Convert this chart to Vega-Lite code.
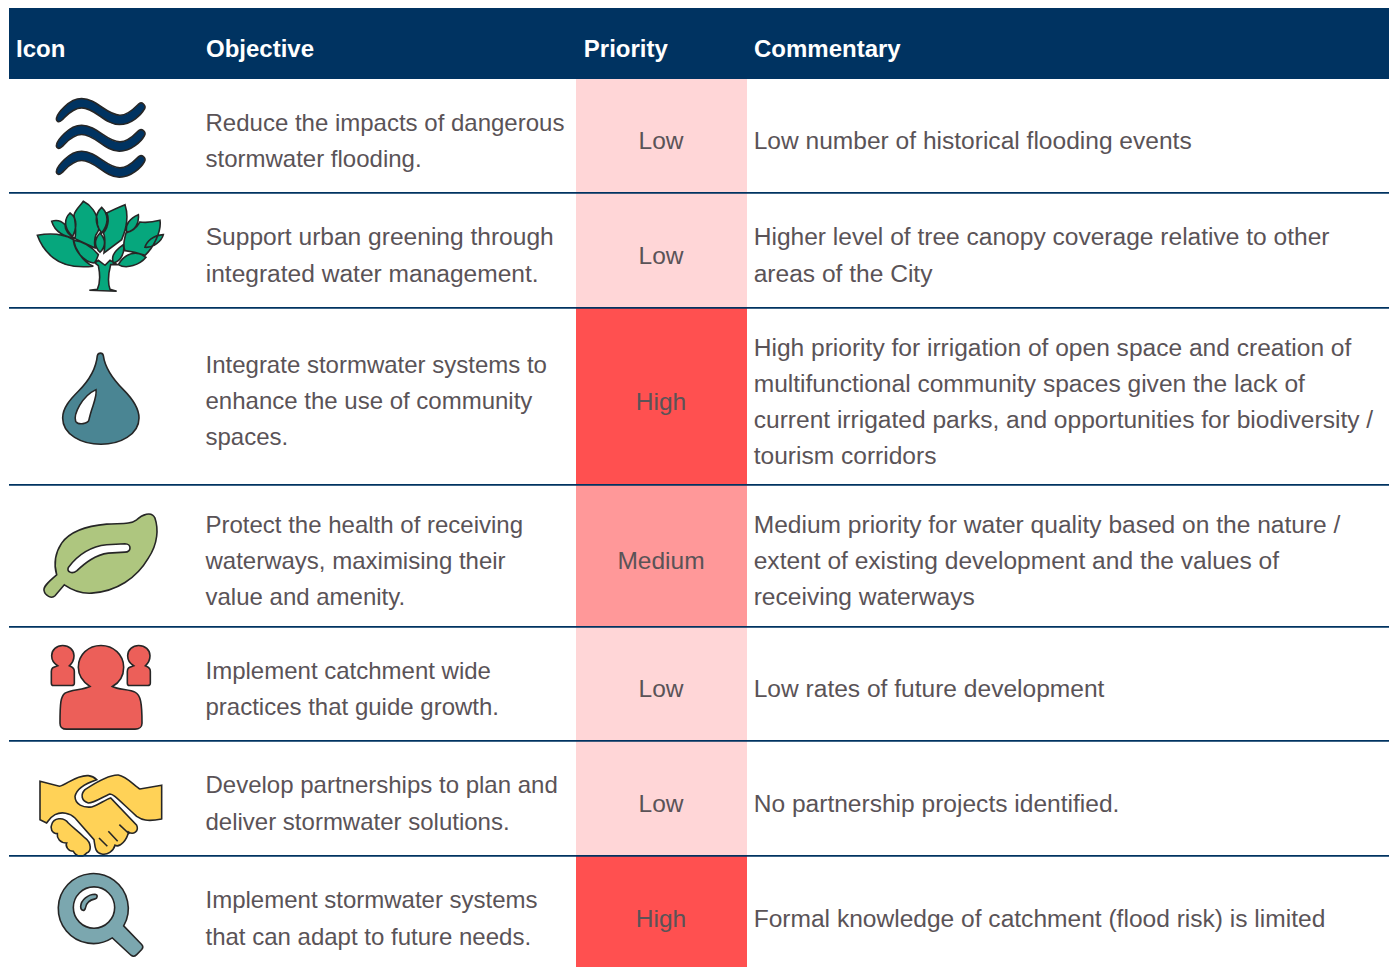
{"$schema":"https://vega.github.io/schema/vega-lite/v6.json","width":1394,"height":967,"padding":0,"autosize":{"type":"none"},"background":"#ffffff","config":{"view":{"stroke":null}},
"resolve":{"scale":{"fill":"independent","y":"independent"}},
"datasets":{
"rows":[
{"rowStart":1,"rowEnd":2,"rowMid":1.5,"priority":"Low"},
{"rowStart":2,"rowEnd":3,"rowMid":2.5,"priority":"Low"},
{"rowStart":3,"rowEnd":4,"rowMid":3.5,"priority":"High"},
{"rowStart":4,"rowEnd":5,"rowMid":4.5,"priority":"Medium"},
{"rowStart":5,"rowEnd":6,"rowMid":5.5,"priority":"Low"},
{"rowStart":6,"rowEnd":7,"rowMid":6.5,"priority":"Low"},
{"rowStart":7,"rowEnd":8,"rowMid":7.5,"priority":"High"}
],
"lines":[
{"row":1,"col":1,"line":1,"text":"Reduce the impacts of dangerous"},
{"row":1,"col":1,"line":3,"text":"stormwater flooding."},
{"row":2,"col":1,"line":4,"text":"Support urban greening through"},
{"row":2,"col":1,"line":5,"text":"integrated water management."},
{"row":3,"col":1,"line":7,"text":"Integrate stormwater systems to"},
{"row":3,"col":1,"line":9,"text":"enhance the use of community"},
{"row":3,"col":1,"line":11,"text":"spaces."},
{"row":4,"col":1,"line":13,"text":"Protect the health of receiving"},
{"row":4,"col":1,"line":14,"text":"waterways, maximising their"},
{"row":4,"col":1,"line":15,"text":"value and amenity."},
{"row":5,"col":1,"line":16,"text":"Implement catchment wide"},
{"row":5,"col":1,"line":18,"text":"practices that guide growth."},
{"row":6,"col":1,"line":19,"text":"Develop partnerships to plan and"},
{"row":6,"col":1,"line":21,"text":"deliver stormwater solutions."},
{"row":7,"col":1,"line":22,"text":"Implement stormwater systems"},
{"row":7,"col":1,"line":24,"text":"that can adapt to future needs."},
{"row":1,"col":3,"line":2,"text":"Low number of historical flooding events"},
{"row":2,"col":3,"line":4,"text":"Higher level of tree canopy coverage relative to other"},
{"row":2,"col":3,"line":5,"text":"areas of the City"},
{"row":3,"col":3,"line":6,"text":"High priority for irrigation of open space and creation of"},
{"row":3,"col":3,"line":8,"text":"multifunctional community spaces given the lack of"},
{"row":3,"col":3,"line":10,"text":"current irrigated parks, and opportunities for biodiversity /"},
{"row":3,"col":3,"line":12,"text":"tourism corridors"},
{"row":4,"col":3,"line":13,"text":"Medium priority for water quality based on the nature /"},
{"row":4,"col":3,"line":14,"text":"extent of existing development and the values of"},
{"row":4,"col":3,"line":15,"text":"receiving waterways"},
{"row":5,"col":3,"line":17,"text":"Low rates of future development"},
{"row":6,"col":3,"line":20,"text":"No partnership projects identified."},
{"row":7,"col":3,"line":23,"text":"Formal knowledge of catchment (flood risk) is limited"}
],
"header":[{"label":"Icon","col":0,"rowStart":0,"rowEnd":1,"rowMid":0.5},{"label":"Objective","col":1,"rowStart":0,"rowEnd":1,"rowMid":0.5},{"label":"Priority","col":2.005,"rowStart":0,"rowEnd":1,"rowMid":0.5},{"label":"Commentary","col":3,"rowStart":0,"rowEnd":1,"rowMid":0.5}],
"icons":[{"part":"waves","rowMid":1.5},{"part":"tree","rowMid":2.5},{"part":"drop","rowMid":3.5},{"part":"dropHole","rowMid":3.5},{"part":"leaf","rowMid":4.5},{"part":"leafHole","rowMid":4.5},{"part":"people","rowMid":5.5},{"part":"hands","rowMid":6.5},{"part":"lens","rowMid":7.5},{"part":"lensHole","rowMid":7.5},{"part":"lensGlint","rowMid":7.5}]
},
"layer":[
{"data":{"name":"header"},"mark":{"type":"rect","color":"#003361"},"encoding":{
"x":{"datum":0,"type":"quantitative","axis":null,"scale":{"domain":[0,0.5,1,2,2.5,3,4],"range":[9,100,199,576,661,747,1389],"zero":false,"nice":false}},"x2":{"datum":4},
"y":{"field":"rowStart","type":"quantitative","axis":null,"scale":{"domain":[0,1,2,3,4,5,6,7,8],"range":[8,79,192.8,307.8,484.8,626.8,740.8,855.8,972],"zero":false,"nice":false}},"y2":{"field":"rowEnd"}}},
{"data":{"name":"rows"},"mark":{"type":"rect"},"encoding":{
"x":{"datum":2,"type":"quantitative","axis":null,"scale":{"domain":[0,0.5,1,2,2.5,3,4],"range":[9,100,199,576,661,747,1389],"zero":false,"nice":false}},"x2":{"datum":3},
"y":{"field":"rowStart","type":"quantitative","axis":null,"scale":{"domain":[0,1,2,3,4,5,6,7,8],"range":[8,79,192.8,307.8,484.8,626.8,740.8,855.8,972],"zero":false,"nice":false}},"y2":{"field":"rowEnd"},
"fill":{"field":"priority","type":"nominal","legend":null,"scale":{"domain":["Low","Medium","High"],"range":["#FFD6D7","#FF9899","#FF5050"]}}}},
{"data":{"name":"icons"},"mark":{"type":"point","filled":true,"opacity":1,"stroke":"#262626","strokeWidth":1.6,"size":0.4444},"encoding":{
"x":{"datum":0.5,"type":"quantitative","axis":null,"scale":{"domain":[0,0.5,1,2,2.5,3,4],"range":[9,100,199,576,661,747,1389],"zero":false,"nice":false}},
"y":{"field":"rowMid","type":"quantitative","axis":null,"scale":{"domain":[0,1,2,3,4,5,6,7,8],"range":[8,79,192.8,307.8,484.8,626.8,740.8,855.8,972],"zero":false,"nice":false}},
"fill":{"field":"part","type":"nominal","legend":null,"scale":{"domain":["waves","tree","drop","dropHole","leaf","leafHole","people","hands","lens","lensHole","lensGlint"],"range":["#003361","#06A77D","#4A8593","#ffffff","#AEC67F","#ffffff","#EC5F59","#FFD257","#7BA7AF","#ffffff","#7BA7AF"]}},
"shape":{"field":"part","type":"nominal","legend":null,"scale":{"domain":["waves","tree","drop","dropHole","leaf","leafHole","people","hands","lens","lensHole","lensGlint"],"range":[
"M-130,-55 C-128,-65 -95,-112 -55,-112 C-10,-112 20,-62 60,-62 C85,-62 105,-85 115,-95 C125,-105 140,-92 133,-80 C125,-65 95,-34 58,-34 C15,-34 -15,-84 -55,-84 C-85,-84 -105,-55 -115,-47 C-125,-38 -133,-45 -130,-55Z M-130,25 C-128,15 -95,-32 -55,-32 C-10,-32 20,18 60,18 C85,18 105,-5 115,-15 C125,-25 140,-12 133,0 C125,15 95,46 58,46 C15,46 -15,-4 -55,-4 C-85,-4 -105,25 -115,33 C-125,42 -133,35 -130,25Z M-130,103 C-128,93 -95,46 -55,46 C-10,46 20,96 60,96 C85,96 105,73 115,63 C125,53 140,66 133,78 C125,93 95,124 58,124 C15,124 -15,74 -55,74 C-85,74 -105,103 -115,111 C-125,120 -133,113 -130,103Z",
"M-5,46 C0,70 0,100 -8,117 L-32,120 L50,123 L30,117 C22,95 25,70 32,43 L52,43 L30,30 L15,45 L-5,30 L-15,38Z M-188,-45 C-150,-52 -110,-49 -80,-32 C-75,-7 -55,33 -20,48 C-70,53 -110,48 -140,23 C-165,3 -180,-22 -188,-45Z M-145,-87 C-130,-92 -115,-87 -105,-77 C-105,-62 -95,-47 -75,-35 C-105,-42 -135,-52 -145,-87Z M-50,-147 C-30,-137 -5,-112 -8,-77 C0,-62 -5,-57 -12,-47 C-20,-27 -15,-17 -15,-7 L-75,-35 C-70,-67 -75,-87 -78,-105 C-75,-122 -60,-132 -50,-147Z M-90,-112 C-70,-97 -68,-72 -82,-42 C-100,-57 -115,-87 -90,-112Z M75,-137 C85,-107 80,-67 65,-32 C45,-17 25,-2 12,8 C15,-17 18,-37 10,-52 C30,-77 25,-102 20,-112 C40,-122 60,-132 75,-137Z M5,-129 C28,-107 25,-77 5,-52 C-15,-77 -18,-107 5,-129Z M180,-90 C185,-57 160,-7 135,15 C115,8 95,3 75,1 C70,-12 70,-22 78,-52 C105,-57 115,-77 120,-85 C140,-82 160,-85 180,-90Z M115,-107 C118,-82 105,-57 80,-55 C75,-77 90,-97 115,-107Z M190,-47 C185,-27 160,-7 135,-9 C140,-27 160,-45 190,-47Z M-80,-30 C-55,-27 -30,-17 -5,13 C-10,28 -15,38 -20,38 C-50,33 -75,3 -80,-30Z M0,-52 C18,-32 18,-12 0,6 C-18,-12 -18,-32 0,-52Z M70,-17 C75,3 65,33 40,38 C35,23 35,8 70,-17Z M55,43 C75,8 110,-2 138,21 C120,43 80,58 55,43Z",
"M-8,-122 C-5,-132 8,-132 10,-122 C15,-85 40,-50 70,-20 C100,10 117,35 117,65 C117,115 60,144 3,144 C-55,144 -112,115 -112,65 C-112,35 -90,10 -65,-15 C-35,-45 -12,-80 -8,-122Z",
"M-12,-20 C-8,5 -25,30 -33,70 C-35,82 -65,88 -73,75 C-80,55 -55,0 -12,-20Z",
"M-130,57 C-140,22 -135,-8 -115,-38 C-90,-73 -40,-90 20,-95 C60,-98 90,-93 110,-108 C125,-123 155,-136 165,-113 C175,-83 175,-38 145,7 C110,67 50,107 -25,112 C-55,114 -85,102 -107,87 L-135,120 C-145,130 -165,120 -168,104 C-170,94 -160,82 -130,57Z",
"M-95,35 C-70,2 -30,-28 20,-33 L75,-36 C95,-36 95,-11 75,-11 L25,-8 C-15,-3 -45,22 -70,45 C-85,57 -100,47 -95,35Z",
"M-30,8 C-45,-2 -65,-22 -65,-50 C-65,-87 -35,-115 3,-115 C40,-115 71,-87 71,-50 C71,-22 55,-2 37,8 C55,18 90,16 105,25 C122,33 126,58 126,118 C126,128 118,136 105,136 L-100,136 C-110,136 -120,131 -120,118 C-120,58 -118,38 -105,28 C-90,18 -50,18 -30,8Z M-127,-54 C-140,-62 -145,-72 -145,-84 C-145,-102 -130,-115 -112,-115 C-93,-115 -78,-102 -78,-84 C-78,-72 -83,-62 -92,-54 C-85,-50 -77,-50 -77,-37 L-77,-2 C-77,3 -80,5 -85,5 L-140,5 C-144,5 -146,3 -146,-2 L-146,-37 C-146,-50 -137,-50 -127,-54Z M101,-54 C88,-62 83,-72 83,-84 C83,-102 98,-115 116,-115 C135,-115 150,-102 150,-84 C150,-72 145,-62 136,-54 C143,-50 151,-50 151,-37 L151,-2 C151,3 148,5 143,5 L88,5 C84,5 82,3 82,-2 L82,-37 C82,-50 91,-50 101,-54Z",
"M-180,-51 L-122,-36 C-100,-41 -70,-71 -35,-68 C-25,-67 -15,-61 -10,-56 C-40,-46 -70,-31 -75,-6 C-75,19 -50,29 -25,26 C-5,21 15,4 32,-1 L110,81 C118,99 100,111 85,101 C82,124 60,149 45,141 C40,159 22,171 5,167 C-15,164 -15,144 -18,124 L-75,59 C-90,44 -115,39 -135,49 C-150,57 -155,69 -160,74 L-180,64Z M58,79 L88,107 M25,99 L53,129 M-3,119 L22,144 M185,-39 L120,-28 C105,-36 80,-66 55,-70 C30,-71 -15,-46 -45,-26 C-60,-11 -55,9 -35,14 C-15,14 10,-6 30,-13 C40,-13 50,-1 110,54 C125,64 140,71 185,62Z M-145,79 C-140,59 -110,54 -95,74 C-80,89 -65,99 -45,119 C-25,134 -25,159 -40,164 C-50,177 -70,177 -80,159 C-95,159 -105,144 -100,134 C-120,134 -130,119 -128,106 C-145,106 -150,89 -145,79Z",
"M71,36 L125,92 C130,97 130,101 125,107 L110,122 C105,127 99,129 93,124 L37,72 A105,105 0 1 1 71,36Z",
"M-80,-19 A62,62 0 1 1 44,-19 A62,62 0 1 1 -80,-19Z",
"M-58,-22 C-57,-42 -35,-59 -15,-59 C-5,-57 -8,-47 -15,-45 C-30,-42 -42,-32 -44,-17 C-46,-7 -58,-9 -58,-22Z"
]}}}},
{"data":{"name":"rows"},"mark":{"type":"rule","color":"#003361","strokeWidth":1.8},"encoding":{
"x":{"datum":0,"type":"quantitative","axis":null,"scale":{"domain":[0,0.5,1,2,2.5,3,4],"range":[9,100,199,576,661,747,1389],"zero":false,"nice":false}},"x2":{"datum":4},
"y":{"field":"rowEnd","type":"quantitative","axis":null,"scale":{"domain":[0,1,2,3,4,5,6,7,8],"range":[8,79,192.8,307.8,484.8,626.8,740.8,855.8,972],"zero":false,"nice":false}}}},
{"data":{"name":"header"},"mark":{"type":"text","align":"left","baseline":"middle","font":"Liberation Sans","fontSize":24,"fontWeight":"bold","color":"#ffffff","dx":7,"dy":6.5},"encoding":{
"x":{"field":"col","type":"quantitative","axis":null,"scale":{"domain":[0,0.5,1,2,2.5,3,4],"range":[9,100,199,576,661,747,1389],"zero":false,"nice":false}},
"y":{"field":"rowMid","type":"quantitative","axis":null,"scale":{"domain":[0,1,2,3,4,5,6,7,8],"range":[8,79,192.8,307.8,484.8,626.8,740.8,855.8,972],"zero":false,"nice":false}},
"text":{"field":"label","type":"nominal"}}},
{"data":{"name":"lines"},"transform":[{"filter":"datum.col == 1 && datum.row != 2"}],"mark":{"type":"text","align":"left","baseline":"middle","font":"Liberation Sans","fontSize":24,"color":"#5A5357","dx":6.5},"encoding":{
"x":{"field":"col","type":"quantitative","axis":null,"scale":{"domain":[0,0.5,1,2,2.5,3,4],"range":[9,100,199,576,661,747,1389],"zero":false,"nice":false}},
"y":{"field":"line","type":"quantitative","axis":null,"scale":{"domain":[1,2,3,4,5,6,7,8,9,10,11,12,13,14,15,16,17,18,19,20,21,22,23,24],"range":[124,142,160,238,275,349,366,385,402,421,438,457,526,562,598,672,690,708,786,805,823,901,920,938],"zero":false,"nice":false}},
"text":{"field":"text","type":"nominal"}}},
{"data":{"name":"lines"},"transform":[{"filter":"datum.col == 3 || datum.row == 2"}],"mark":{"type":"text","align":"left","baseline":"middle","font":"Liberation Sans","fontSize":24.55,"color":"#5A5357","dx":6.7},"encoding":{
"x":{"field":"col","type":"quantitative","axis":null,"scale":{"domain":[0,0.5,1,2,2.5,3,4],"range":[9,100,199,576,661,747,1389],"zero":false,"nice":false}},
"y":{"field":"line","type":"quantitative","axis":null,"scale":{"domain":[1,2,3,4,5,6,7,8,9,10,11,12,13,14,15,16,17,18,19,20,21,22,23,24],"range":[124,142,160,238,275,349,366,385,402,421,438,457,526,562,598,672,690,708,786,805,823,901,920,938],"zero":false,"nice":false}},
"text":{"field":"text","type":"nominal"}}},
{"data":{"name":"rows"},"mark":{"type":"text","align":"center","baseline":"middle","font":"Liberation Sans","fontSize":24.5,"color":"#5A5357","dy":6.4},"encoding":{
"x":{"datum":2.5,"type":"quantitative","axis":null,"scale":{"domain":[0,0.5,1,2,2.5,3,4],"range":[9,100,199,576,661,747,1389],"zero":false,"nice":false}},
"y":{"field":"rowMid","type":"quantitative","axis":null,"scale":{"domain":[0,1,2,3,4,5,6,7,8],"range":[8,79,192.8,307.8,484.8,626.8,740.8,855.8,972],"zero":false,"nice":false}},
"text":{"field":"priority","type":"nominal"}}}
]}
